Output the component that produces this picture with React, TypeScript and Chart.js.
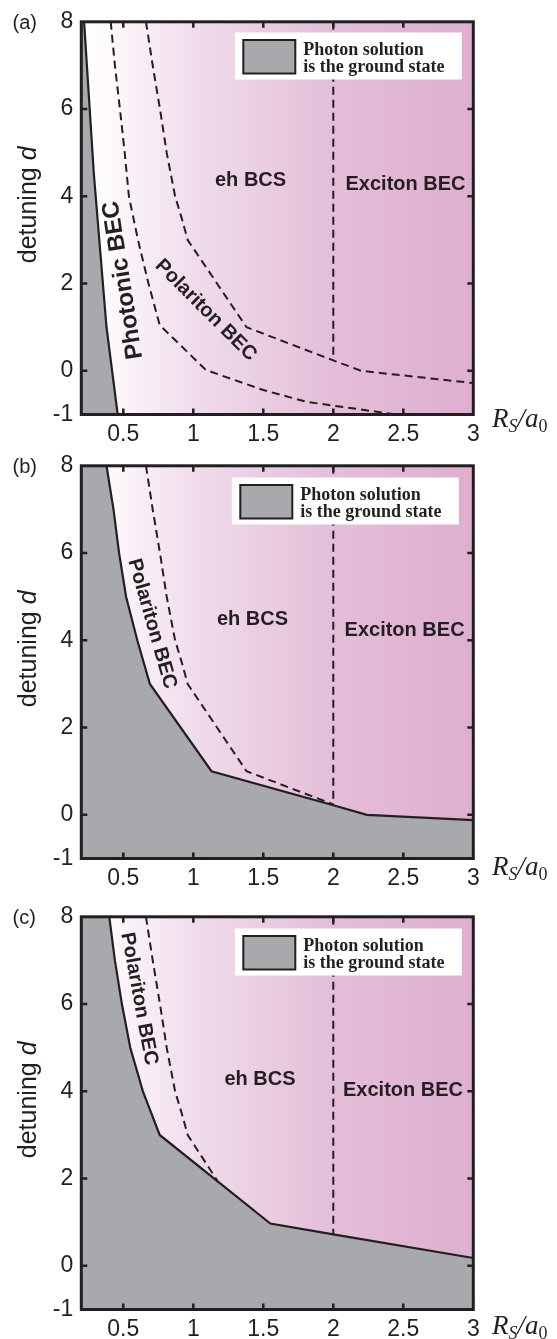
import React, { useEffect, useRef } from 'react';
import { Chart, registerables } from 'chart.js';

Chart.register(...registerables);

// ---------- axes ----------
const X_TICKS = [0.5, 1, 1.5, 2, 2.5, 3];
const Y_TICKS = [-1, 0, 2, 4, 6, 8];
const X_MIN = 0.2;
const X_MAX = 3;
const Y_MIN = -1;
const Y_MAX = 8;

// ---------- panel (a) ----------
const A_PHOTON_R = [0.2, 0.22, 0.29, 0.38, 0.46];
const A_PHOTON_D = [8, 8, 4.5, 1, -1];
const A_PHOTONIC_R = [0.41, 0.44, 0.476, 0.51, 0.54, 0.605, 0.68, 0.76, 1.09, 1.5, 1.81, 2.45];
const A_PHOTONIC_D = [8, 7, 6, 5, 4, 3, 2, 1.05, 0.02, -0.44, -0.71, -1];
const A_POLARITON_R = [0.662, 0.71, 0.762, 0.81, 0.87, 0.917, 0.96, 1.38, 2.0, 2.2, 3];
const A_POLARITON_D = [8, 7, 6, 5, 4, 3.5, 3, 1, 0.24, 0, -0.28];
const A_EXCITON_R = [2, 2];
const A_EXCITON_D = [8, 0.24];

// ---------- panel (b) ----------
const B_PHOTON_R = [0.2, 0.38, 0.43, 0.47, 0.52, 0.6, 0.69, 1.13, 2.0, 2.24, 3];
const B_PHOTON_D = [8, 8, 7, 6, 5, 4, 3, 1, 0.22, 0, -0.12];
const B_POLARITON_R = [0.662, 0.71, 0.762, 0.81, 0.87, 0.917, 0.96, 1.38, 2.0];
const B_POLARITON_D = [8, 7, 6, 5, 4, 3.5, 3, 1, 0.24];
const B_EXCITON_R = [2, 2];
const B_EXCITON_D = [8, 0.22];

// ---------- panel (c) ----------
const C_PHOTON_R = [0.2, 0.4, 0.44, 0.49, 0.55, 0.64, 0.76, 1.55, 2.0, 3];
const C_PHOTON_D = [8, 8, 7, 6, 5, 4, 3, 0.97, 0.72, 0.18];
const C_POLARITON_R = [0.662, 0.71, 0.762, 0.81, 0.87, 0.917, 0.96, 1.17];
const C_POLARITON_D = [8, 7, 6, 5, 4, 3.5, 3, 1.96];
const C_EXCITON_R = [2, 2];
const C_EXCITON_D = [8, 0.72];

// ---------- texts ----------
const LEGEND_LINES = ['Photon solution', 'is the ground state'];
const Y_TITLE = 'detuning ';
const Y_TITLE_VAR = 'd';

// background shading (data-space stops)
const GRAD_AT = [0.2, 0.42, 1.0, 2.0, 3.0];
const GRAD_COLORS = ['#ffffff', '#fdf9fc', '#f0dcec', '#e4bed9', '#deaecf'];

const INK = '#231f20';
const GRAY = '#a7a9ac';
const SANS = '"Liberation Sans", Arial, Helvetica, sans-serif';
const SERIF = '"Liberation Serif", "Times New Roman", serif';

type Label = { text: string; r: number; d: number; rot: number; size: number };
type PanelCfg = {
  letter: string;
  top: number;
  height: number;
  photon: [number[], number[]];
  dashed: [number[], number[]][];
  labels: Label[];
  legendDx: number;
  legendDy: number;
  xlabDy: number;
};

const pts = (r: number[], d: number[]) => r.map((v, i) => ({ x: v, y: d[i] }));

const PANELS: PanelCfg[] = [
  {
    letter: '(a)',
    top: 0,
    height: 447,
    photon: [A_PHOTON_R, A_PHOTON_D],
    dashed: [
      [A_PHOTONIC_R, A_PHOTONIC_D],
      [A_POLARITON_R, A_POLARITON_D],
      [A_EXCITON_R, A_EXCITON_D],
    ],
    labels: [
      { text: 'eh BCS', r: 1.409, d: 4.36, rot: 0, size: 20 },
      { text: 'Exciton BEC', r: 2.516, d: 4.27, rot: 0, size: 20 },
      { text: 'Photonic BEC', r: 0.5, d: 2.08, rot: -99, size: 24 },
      { text: 'Polariton BEC', r: 1.089, d: 1.39, rot: 45, size: 20 },
    ],
    legendDx: 153.5,
    legendDy: 10.7,
    xlabDy: 12,
  },
  {
    letter: '(b)',
    top: 444,
    height: 447,
    photon: [B_PHOTON_R, B_PHOTON_D],
    dashed: [
      [B_POLARITON_R, B_POLARITON_D],
      [B_EXCITON_R, B_EXCITON_D],
    ],
    labels: [
      { text: 'eh BCS', r: 1.423, d: 4.48, rot: 0, size: 20 },
      { text: 'Exciton BEC', r: 2.509, d: 4.22, rot: 0, size: 20 },
      { text: 'Polariton BEC', r: 0.705, d: 4.38, rot: 74, size: 20 },
    ],
    legendDx: 150.5,
    legendDy: 11.7,
    xlabDy: 16,
  },
  {
    letter: '(c)',
    top: 895,
    height: 444,
    photon: [C_PHOTON_R, C_PHOTON_D],
    dashed: [
      [C_POLARITON_R, C_POLARITON_D],
      [C_EXCITON_R, C_EXCITON_D],
    ],
    labels: [
      { text: 'eh BCS', r: 1.476, d: 4.28, rot: 0, size: 20 },
      { text: 'Exciton BEC', r: 2.498, d: 4.03, rot: 0, size: 20 },
      { text: 'Polariton BEC', r: 0.612, d: 6.12, rot: 79.5, size: 20 },
    ],
    legendDx: 153.5,
    legendDy: 11.7,
    xlabDy: 24,
  },
];

const PLOT_TOP = 21;
const PLOT_BOTTOM = 414.5;
const PLOT_LEFT = 81.3;
const PLOT_RIGHT = 473.3;
const W = 557;

function decoPlugin(p: PanelCfg) {
  return {
    id: 'deco',
    beforeDatasetsDraw(chart: any) {
      const { ctx, chartArea: a } = chart;
      const xs = chart.scales.x;
      const g = ctx.createLinearGradient(a.left, 0, a.right, 0);
      GRAD_AT.forEach((v, i) => {
        const t = (xs.getPixelForValue(v) - a.left) / (a.right - a.left);
        g.addColorStop(Math.min(1, Math.max(0, t)), GRAD_COLORS[i]);
      });
      ctx.save();
      ctx.fillStyle = g;
      ctx.fillRect(a.left, a.top, a.right - a.left, a.bottom - a.top);
      ctx.restore();
    },
    afterDatasetsDraw(chart: any) {
      const { ctx, chartArea: a } = chart;
      const xs = chart.scales.x;
      const ys = chart.scales.y;
      ctx.save();
      // region labels
      ctx.fillStyle = INK;
      p.labels.forEach((l) => {
        ctx.save();
        ctx.translate(xs.getPixelForValue(l.r), ys.getPixelForValue(l.d));
        ctx.rotate((l.rot * Math.PI) / 180);
        ctx.font = `bold ${l.size}px ${SANS}`;
        ctx.textAlign = 'center';
        ctx.textBaseline = 'middle';
        ctx.fillText(l.text, 0, 0);
        ctx.restore();
      });
      // legend box
      const bx = a.left + p.legendDx;
      const by = a.top + p.legendDy;
      ctx.fillStyle = '#ffffff';
      ctx.fillRect(bx, by, 227, 47);
      ctx.fillStyle = GRAY;
      ctx.fillRect(bx + 8.5, by + 7.5, 52, 33.5);
      ctx.lineWidth = 2;
      ctx.strokeStyle = INK;
      ctx.strokeRect(bx + 8.5, by + 7.5, 52, 33.5);
      ctx.fillStyle = INK;
      ctx.font = `bold 18px ${SERIF}`;
      ctx.textAlign = 'left';
      ctx.textBaseline = 'alphabetic';
      ctx.fillText(LEGEND_LINES[0], bx + 68.5, by + 22);
      ctx.fillText(LEGEND_LINES[1], bx + 68.5, by + 39.3);
      // frame
      ctx.lineWidth = 3;
      ctx.strokeStyle = INK;
      ctx.strokeRect(a.left, a.top, a.right - a.left, a.bottom - a.top);
      // inward ticks
      ctx.lineWidth = 2.5;
      const TL = 6;
      ctx.beginPath();
      X_TICKS.forEach((v) => {
        const px = xs.getPixelForValue(v);
        if (px > a.left + 3 && px < a.right - 3) {
          ctx.moveTo(px, a.bottom);
          ctx.lineTo(px, a.bottom - TL);
          ctx.moveTo(px, a.top);
          ctx.lineTo(px, a.top + TL);
        }
      });
      Y_TICKS.forEach((v) => {
        const py = ys.getPixelForValue(v);
        if (py > a.top + 3 && py < a.bottom - 3) {
          ctx.moveTo(a.left, py);
          ctx.lineTo(a.left + TL, py);
          ctx.moveTo(a.right, py);
          ctx.lineTo(a.right - TL, py);
        }
      });
      ctx.stroke();
      // y title
      ctx.save();
      ctx.translate(36, a.top + 183);
      ctx.rotate(-Math.PI / 2);
      ctx.font = `25px ${SANS}`;
      const w1 = ctx.measureText(Y_TITLE).width;
      ctx.font = `italic 25px ${SANS}`;
      const w2 = ctx.measureText(Y_TITLE_VAR).width;
      const sx = -(w1 + w2) / 2;
      ctx.textAlign = 'left';
      ctx.textBaseline = 'alphabetic';
      ctx.font = `25px ${SANS}`;
      ctx.fillText(Y_TITLE, sx, 0);
      ctx.font = `italic 25px ${SANS}`;
      ctx.fillText(Y_TITLE_VAR, sx + w1, 0);
      ctx.restore();
      // x title  R_S / a_0
      let xx = 492;
      const base = a.bottom + p.xlabDy;
      ctx.textAlign = 'left';
      ctx.textBaseline = 'alphabetic';
      const piece = (t: string, font: string, dy: number) => {
        ctx.font = font;
        ctx.fillText(t, xx, base + dy);
        xx += ctx.measureText(t).width;
      };
      piece('R', `italic 27px ${SERIF}`, 0);
      piece('S', `italic 18px ${SERIF}`, 5);
      piece('/a', `italic 27px ${SERIF}`, 0);
      piece('0', `18px ${SERIF}`, 5);
      // panel letter
      ctx.font = `20px ${SANS}`;
      ctx.textBaseline = 'middle';
      ctx.fillText(p.letter, 12.5, a.top + 1.5);
      ctx.restore();
    },
  };
}

function buildConfig(p: PanelCfg): any {
  const datasets: any[] = [
    {
      data: pts(p.photon[0], p.photon[1]),
      borderColor: INK,
      borderWidth: 2.2,
      backgroundColor: GRAY,
      fill: 'start',
      pointRadius: 0,
      tension: 0,
    },
  ];
  p.dashed.forEach(([r, d]) => {
    datasets.push({
      data: pts(r, d),
      borderColor: INK,
      borderWidth: 2,
      borderDash: [8, 5],
      fill: false,
      pointRadius: 0,
      tension: 0,
    });
  });
  const tickFont = { family: SANS, size: 23 };
  return {
    type: 'line',
    data: { datasets },
    options: {
      animation: false,
      responsive: false,
      maintainAspectRatio: false,
      events: [],
      layout: { padding: { top: PLOT_TOP, right: W - PLOT_RIGHT, left: 0, bottom: 0 } },
      plugins: { legend: { display: false }, tooltip: { enabled: false } },
      scales: {
        x: {
          type: 'linear',
          min: X_MIN,
          max: X_MAX,
          grid: { display: false, drawTicks: false },
          border: { display: false },
          ticks: {
            padding: 6,
            font: tickFont,
            color: INK,
            maxRotation: 0,
            autoSkip: false,
            callback: (v: number) => String(v),
          },
          afterBuildTicks: (s: any) => {
            s.ticks = X_TICKS.map((v) => ({ value: v }));
          },
          afterFit: (s: any) => {
            s.height = p.height - PLOT_BOTTOM;
          },
        },
        y: {
          type: 'linear',
          min: Y_MIN,
          max: Y_MAX,
          grid: { display: false, drawTicks: false },
          border: { display: false },
          ticks: {
            padding: 8,
            font: tickFont,
            color: INK,
            autoSkip: false,
            callback: (v: number) => String(v),
          },
          afterBuildTicks: (s: any) => {
            s.ticks = Y_TICKS.map((v) => ({ value: v }));
          },
          afterFit: (s: any) => {
            s.width = PLOT_LEFT;
          },
        },
      },
    },
    plugins: [decoPlugin(p)],
  };
}

function Panel({ cfg }: { cfg: PanelCfg }) {
  const ref = useRef<HTMLCanvasElement>(null);
  useEffect(() => {
    const chart = new Chart(ref.current as HTMLCanvasElement, buildConfig(cfg));
    return () => chart.destroy();
  }, [cfg]);
  return (
    <canvas
      ref={ref}
      width={W}
      height={cfg.height}
      style={{ position: 'absolute', left: 0, top: cfg.top, width: W, height: cfg.height }}
    />
  );
}

export default function App() {
  return (
    <div style={{ position: 'absolute', left: 0, top: 0, width: W, height: 1339, background: '#ffffff' }}>
      {PANELS.map((p) => (
        <Panel key={p.letter} cfg={p} />
      ))}
    </div>
  );
}
